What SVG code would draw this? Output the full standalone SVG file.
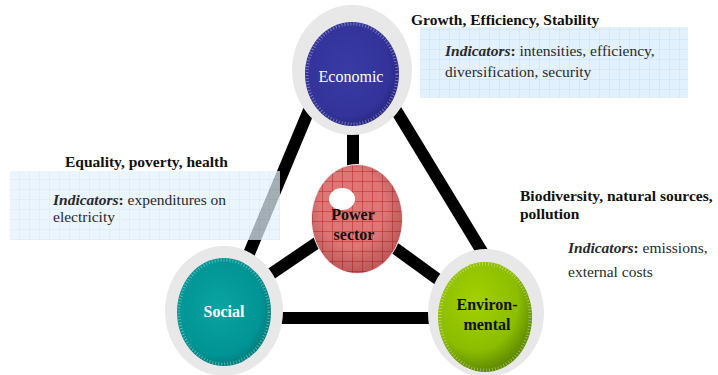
<svg xmlns="http://www.w3.org/2000/svg" width="718" height="375" viewBox="0 0 718 375">
<defs>
<pattern id="grid" width="10" height="10" patternUnits="userSpaceOnUse">
<rect width="10" height="10" fill="#e2f1fc"/>
<path d="M10 0V10M0 10H10" stroke="#c9e2f5" stroke-width="1" fill="none"/>
</pattern>
<pattern id="redgrid" x="3" y="2" width="10" height="10" patternUnits="userSpaceOnUse">
<rect width="10" height="10" fill="#df7676"/>
<path d="M10 0V10M0 10H10" stroke="#c41e1e" stroke-width="1" fill="none"/>
</pattern>
<radialGradient id="gBlue" cx="45%" cy="45%" r="60%">
<stop offset="0" stop-color="#3a3aa6"/>
<stop offset="0.75" stop-color="#33339a"/>
<stop offset="1" stop-color="#24247a"/>
</radialGradient>
<radialGradient id="gTeal" cx="45%" cy="45%" r="60%">
<stop offset="0" stop-color="#0aa3a3"/>
<stop offset="0.75" stop-color="#019494"/>
<stop offset="1" stop-color="#007373"/>
</radialGradient>
<radialGradient id="gGreen" cx="40%" cy="35%" r="65%">
<stop offset="0" stop-color="#a2d000"/>
<stop offset="0.7" stop-color="#8cbd00"/>
<stop offset="1" stop-color="#5e8a00"/>
</radialGradient>
<radialGradient id="gShade" cx="45%" cy="40%" r="60%">
<stop offset="0.6" stop-color="#000" stop-opacity="0"/>
<stop offset="1" stop-color="#600" stop-opacity="0.25"/>
</radialGradient>
</defs>
<style>
.ring{fill:#e8e8e8}
.conn{stroke:#000;stroke-width:12;stroke-linecap:butt;fill:none}
text{font-family:'Liberation Serif','DejaVu Serif',serif}
.t{font-size:15.5px;fill:#2a2a2a}
.b{font-weight:bold;fill:#111}
.i{font-style:italic;font-weight:bold}
.lbl{font-size:16px;text-anchor:middle}
.edge{fill:none;stroke:#fff;stroke-opacity:0.35;stroke-width:3;stroke-dasharray:1 2}
</style>

<g id="connectors">
<line class="conn" x1="353" y1="120" x2="353" y2="168"/>
<line class="conn" x1="309" y1="110" x2="248" y2="256"/>
<line class="conn" x1="396" y1="110" x2="486" y2="258"/>
<line class="conn" x1="318" y1="242" x2="262" y2="280"/>
<line class="conn" x1="392" y1="246" x2="447" y2="286"/>
<line class="conn" x1="278" y1="318" x2="434" y2="318"/>
</g>

<g id="box-economic">
<rect x="420" y="27" width="268" height="71" fill="url(#grid)"/>
<text class="t b" x="411" y="25">Growth, Efficiency, Stability</text>
<text class="t" x="445" y="56"><tspan class="i">Indicators</tspan><tspan font-weight="bold">:</tspan> intensities, efficiency,</text>
<text class="t" x="445" y="77">diversification, security</text>
</g>

<g id="box-social">
<rect x="10" y="171" width="270" height="69" fill="url(#grid)" opacity="0.72"/>
<text class="t b" x="65" y="167">Equality, poverty, health</text>
<text class="t" x="53" y="205"><tspan class="i">Indicators</tspan><tspan font-weight="bold">:</tspan> expenditures on</text>
<text class="t" x="53" y="222">electricity</text>
</g>

<g id="box-environmental">
<text class="t b" x="520" y="201">Biodiversity, natural sources,</text>
<text class="t b" x="520" y="219">pollution</text>
<text class="t" x="568" y="253"><tspan class="i">Indicators</tspan><tspan font-weight="bold">:</tspan> emissions,</text>
<text class="t" x="568" y="277">external costs</text>
</g>

<g id="node-economic">
<ellipse class="ring" cx="352" cy="70" rx="60" ry="65"/>
<ellipse cx="352" cy="74" rx="47" ry="52" fill="url(#gBlue)"/>
<ellipse class="edge" cx="352" cy="74" rx="45" ry="50"/>
<text class="lbl" x="351" y="82" fill="#fff">Economic</text>
</g>

<g id="node-power">
<ellipse cx="357" cy="219" rx="46" ry="55" fill="#eeeeee"/>
<ellipse cx="357" cy="219" rx="45" ry="54" fill="url(#redgrid)"/>
<ellipse cx="357" cy="219" rx="45" ry="54" fill="url(#gShade)"/>
<ellipse cx="342" cy="199" rx="13" ry="11" fill="#fff"/>
<text class="lbl" x="353" y="220" font-weight="bold" fill="#111">Power</text>
<text class="lbl" x="354" y="240" font-weight="bold" fill="#111">sector</text>
</g>

<g id="node-social">
<ellipse class="ring" cx="224" cy="311" rx="59" ry="65"/>
<ellipse cx="224" cy="312" rx="47" ry="54" fill="url(#gTeal)"/>
<ellipse class="edge" cx="224" cy="312" rx="45" ry="52"/>
<text class="lbl" x="224" y="317" font-weight="bold" fill="#fff">Social</text>
</g>

<g id="node-environmental">
<ellipse class="ring" cx="486" cy="313" rx="58" ry="64"/>
<ellipse cx="485" cy="317" rx="47" ry="55" fill="url(#gGreen)"/>
<ellipse class="edge" cx="485" cy="317" rx="45" ry="53"/>
<text class="lbl" x="487" y="310" font-weight="bold" fill="#111">Environ-</text>
<text class="lbl" x="487" y="330" font-weight="bold" fill="#111">mental</text>
</g>
</svg>
